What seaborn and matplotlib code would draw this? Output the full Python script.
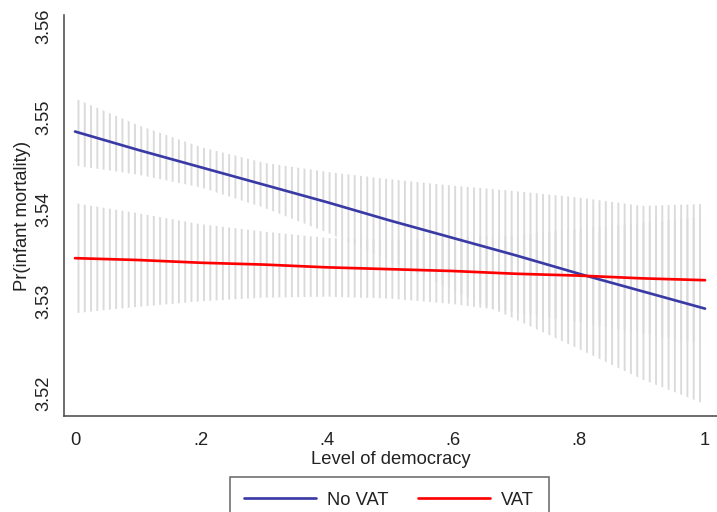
import numpy as np
import pandas as pd
import matplotlib.pyplot as plt
import seaborn as sns

# predicted values (x = level of democracy)
democracy = [0.0, 0.1, 0.2, 0.3, 0.4, 0.5, 0.6, 0.7, 0.8, 0.9, 1.0]

no_vat = [3.5485, 3.5465, 3.5446, 3.5427, 3.5408, 3.5388, 3.5369, 3.5350, 3.5330, 3.5311, 3.5292]
no_vat_hi = [3.5521, 3.5492, 3.5468, 3.5451, 3.5441, 3.5433, 3.5426, 3.5420, 3.5413, 3.5404, 3.5406]
no_vat_lo = [3.5448, 3.5438, 3.5424, 3.5402, 3.5375, 3.5344, 3.5312, 3.5280, 3.5248, 3.5215, 3.5188]

vat = [3.5347, 3.5345, 3.5342, 3.5340, 3.5337, 3.5335, 3.5333, 3.5330, 3.5328, 3.5325, 3.5323]
vat_hi = [3.5407, 3.5396, 3.5384, 3.5376, 3.5369, 3.5367, 3.5369, 3.5372, 3.5379, 3.5385, 3.5393]
vat_lo = [3.5287, 3.5294, 3.5300, 3.5304, 3.5305, 3.5303, 3.5297, 3.5288, 3.5277, 3.5265, 3.5253]

xticks = [0, 0.2, 0.4, 0.6, 0.8, 1.0]
xtick_labels = ['0', '.2', '.4', '.6', '.8', '1']
yticks = [3.52, 3.53, 3.54, 3.55, 3.56]
ytick_labels = ['3.52', '3.53', '3.54', '3.55', '3.56']

df = pd.DataFrame({'democracy': democracy * 2,
                   'pr': no_vat + vat,
                   'group': ['No VAT'] * len(democracy) + ['VAT'] * len(democracy)})

sns.set_style('white')
plt.rcParams['font.family'] = ['Liberation Sans', 'DejaVu Sans']
plt.rcParams['hatch.linewidth'] = 1.2
plt.rcParams['hatch.color'] = '#dadada'

fs = 11.7
txt = '#222222'

dpi = 113.4
fig = plt.figure(figsize=(717 / dpi, 512 / dpi), dpi=dpi)
ax = fig.add_axes([64 / 717, 96 / 512, 653 / 717, 401 / 512])

# confidence bands drawn as vertical spikes (hatch)
for lo, hi in [(no_vat_lo, no_vat_hi), (vat_lo, vat_hi)]:
    ax.fill_between(democracy, lo, hi, facecolor='none', edgecolor='#dadada',
                    hatch='|||', linewidth=0)

sns.lineplot(data=df, x='democracy', y='pr', hue='group',
             palette={'No VAT': '#3a3aa6', 'VAT': '#ff0000'},
             linewidth=1.7, ax=ax)

ax.set_xlim(-0.0175, 1.019)
ax.set_ylim(3.5175, 3.5612)
ax.set_xticks(xticks)
ax.set_xticklabels(xtick_labels)
ax.set_yticks(yticks)
ax.set_yticklabels(ytick_labels, rotation=90, va='center')

for s in ['top', 'right']:
    ax.spines[s].set_visible(False)
for s in ['left', 'bottom']:
    ax.spines[s].set_color('#4a4a4a')
    ax.spines[s].set_linewidth(1.0)

ax.tick_params(direction='out', length=4.5, width=1.0, color='#4a4a4a',
               labelsize=fs, labelcolor=txt)
ax.tick_params(axis='x', pad=5.5)
ax.tick_params(axis='y', pad=3)

ax.set_xlabel('Level of democracy', fontsize=fs, color=txt, labelpad=1.5)
ax.set_ylabel('Pr(infant mortality)', fontsize=fs, color=txt)
ax.yaxis.set_label_coords(-0.051, 0.5)

handles, labels = ax.get_legend_handles_labels()
ax.get_legend().remove()
leg = fig.legend(handles, labels, loc='upper center', bbox_to_anchor=(0.543, 1 - 477 / 512),
                 ncol=2, frameon=True, fancybox=False, edgecolor='#444444',
                 handlelength=3.9, handletextpad=0.6, columnspacing=1.6,
                 fontsize=fs, borderpad=0.8, borderaxespad=0)
leg.get_frame().set_linewidth(1.0)
for t in leg.get_texts():
    t.set_color(txt)

fig.savefig('out.png', dpi=dpi)
